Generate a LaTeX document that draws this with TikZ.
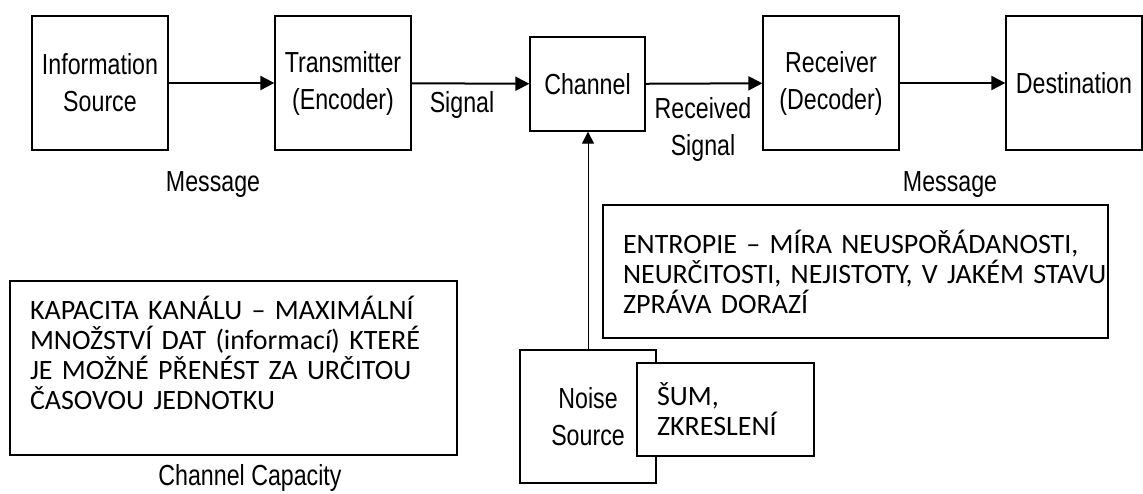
\documentclass[tikz,border=0pt]{standalone}
\usepackage{fontspec}
\setmainfont{Carlito}
\newfontfamily\diagfont[FakeStretch=0.8]{Liberation Sans}
\usetikzlibrary{arrows.meta}

\begin{document}
\begin{tikzpicture}[x=1pt, y=-1pt,
        arrow/.style = {line width=2pt, -{Triangle[length=14pt,width=14pt]}},
        noisearrow/.style = {line width=1pt, -{Triangle[length=12pt,width=12pt]}},
        block/.style = {draw, line width=1.3pt, minimum width=136pt, minimum height=134pt,
                        align=center, inner sep=0pt, font=\diagfont\fontsize{29}{37}\selectfont},
        lbl/.style = {align=center, inner sep=0pt, font=\diagfont\fontsize{29}{37}\selectfont},
        note/.style = {draw, fill=white, line width=1.3pt, align=left, inner xsep=20pt, inner ysep=0pt,
                       font=\fontsize{28}{30}\selectfont}]
                \useasboundingbox (0,0) rectangle (1143,493);

                \node[block] (src)   at (100,83)   {Information\\Source};
                \node[block] (tx)    at (343,83)   {Transmitter\\(Encoder)};
                \node[block, minimum width=115pt, minimum height=94pt] (ch) at (587.5,84) {Channel};
                \node[block] (rx)    at (831,83)   {Receiver\\(Decoder)};
                \node[block] (dst)   at (1074,83)  {Destination};
                \node[block, minimum height=133pt] (noise) at (588,416.5) {Noise\\Source};

                \node[lbl] (msgin)   at (213,185)  {Message};
                \node[lbl] (sig)     at (462,105)  {Signal};
                \node[lbl] (rsig)    at (703,129)  {Received\\Signal};
                \node[lbl] (msgout)  at (950,185)  {Message};
                \node[lbl] (cap)     at (250,478)  {Channel Capacity};

                \node[note, text width=465pt, minimum height=133pt] (entropy) at (855.5,271.5)
                        {\mbox{ENTROPIE – MÍRA NEUSPOŘÁDANOSTI,}\\\mbox{NEURČITOSTI, NEJISTOTY, V JAKÉM STAVU}\\ZPRÁVA DORAZÍ};
                \node[note, text width=407pt, minimum height=174pt, text depth=120pt] (capacity) at (233.5,368)
                        {\mbox{KAPACITA KANÁLU – MAXIMÁLNÍ}\\\mbox{MNOŽSTVÍ DAT (informací) KTERÉ}\\\mbox{JE MOŽNÉ PŘENÉST ZA URČITOU}\\ČASOVOU JEDNOTKU};
                \node[note, text width=137pt, minimum height=93pt] (noisenote) at (725.5,409.5)
                        {ŠUM,\\ZKRESLENÍ};

                \draw[arrow] (src) -- (tx);
                \draw[arrow] (tx) -- (ch);
                \draw[arrow] (ch) -- (rx);
                \draw[arrow] (rx) -- (dst);
                \draw[noisearrow] (noise.north) -- (noise.north |- ch.south);
\end{tikzpicture}
\end{document}
